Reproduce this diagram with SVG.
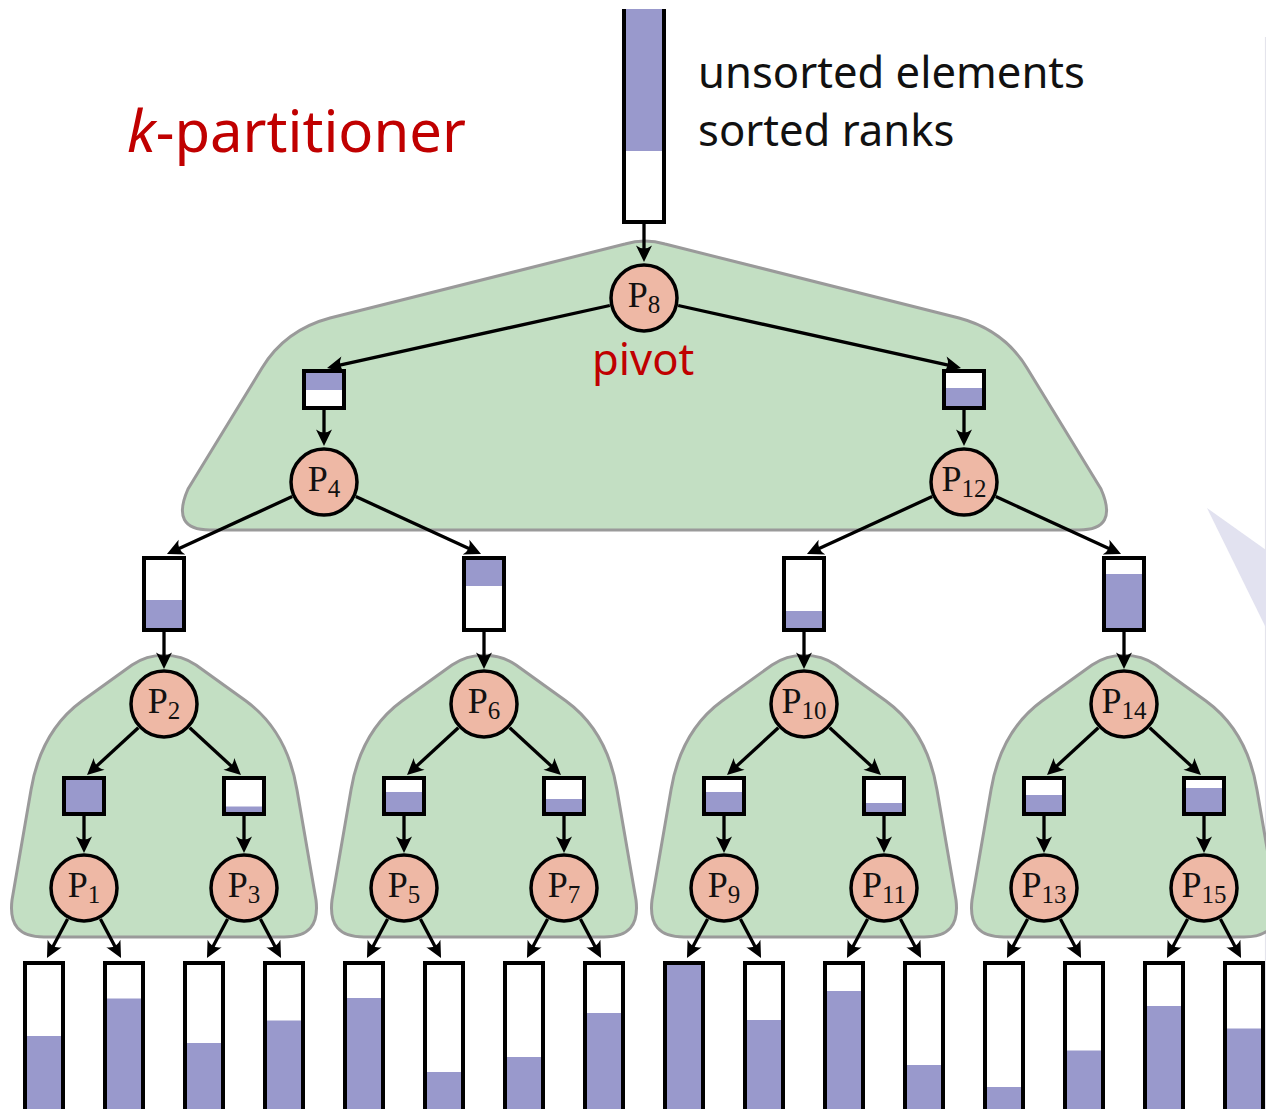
<svg xmlns="http://www.w3.org/2000/svg" width="1266" height="1109" viewBox="0 0 1266 1109">
<defs>
<style>
.region{fill:#c3dfc3;stroke:#9a9a9a;stroke-width:3;stroke-linejoin:round}
.node{fill:#eeb8a5;stroke:#000;stroke-width:3.5}
.lbl{font-family:"Liberation Serif","Times New Roman",serif;font-size:36px;fill:#111;text-anchor:middle}
.sub{font-size:25px}
.box{fill:#fff;stroke:#000;stroke-width:4}
.fill{fill:#9999cc}
.conn{stroke:#000;stroke-width:3.3;fill:none;marker-end:url(#ah)}
.txt{font-family:"Noto Sans","Open Sans",sans-serif;font-size:43.6px;fill:#111}
.red{fill:#c00000}
</style>
<marker id="ah" viewBox="-13 -10 20 20" refX="0" refY="0" markerWidth="20" markerHeight="20" markerUnits="userSpaceOnUse" orient="auto">
<path d="M5,0 L-11.5,-8 Q-5.5,0 -11.5,8 Z" fill="#000"/>
</marker>
<path id="bell" d="M-120,937 L120,937 C145,937 155,925 152,900 L133,790 C126,748 108,720 82,701 L32,665 C13,652 -13,652 -32,665 L-82,701 C-108,720 -126,748 -133,790 L-152,900 C-155,925 -145,937 -120,937 Z"/>
</defs>
<rect width="1266" height="1109" fill="#fff"/>
<line x1="1265.5" y1="37" x2="1265.5" y2="1109" stroke="#e4e4ec" stroke-width="1.2"/>
<polygon points="1207,508 1266,550 1266,628" fill="#e2e2f0"/>

<g id="title"><text class="txt red" x="127" y="152" style="font-size:58px"><tspan font-style="italic">k</tspan>-partitioner</text></g>
<g id="legend">
<text class="txt" x="698" y="88">unsorted elements</text>
<text class="txt" x="698" y="146">sorted ranks</text>
</g>

<g id="regions">
<path id="region-top" class="region" d="M210,530 L1079,530 Q1119,530 1101,489 L1027,368 Q1004,330 959,318 L665,244 Q645,238 625,244 L330,318 Q285,330 262,368 L188,489 Q170,530 210,530 Z"/>
<use id="region-2" class="region" href="#bell" x="164"/>
<use id="region-6" class="region" href="#bell" x="484"/>
<use id="region-10" class="region" href="#bell" x="804"/>
<use id="region-14" class="region" href="#bell" x="1124"/>
</g>

<g id="input-bar">
<rect x="624" y="9" width="40" height="213" fill="#fff"/>
<rect class="fill" x="626" y="9" width="36" height="142"/>
<path d="M624,9 V222 H664 V9" fill="none" stroke="#000" stroke-width="4"/>
</g>

<g id="connectors">
<line class="conn" x1="644" y1="224" x2="644" y2="257"/>
<line class="conn" x1="609.8" y1="305.5" x2="331.9" y2="366.9"/>
<line class="conn" x1="678.2" y1="305.5" x2="956.1" y2="366.9"/>
<line class="conn" x1="324" y1="410" x2="324" y2="441"/>
<line class="conn" x1="964" y1="410" x2="964" y2="441"/>
<line class="conn" x1="292.2" y1="496.6" x2="171.5" y2="551.9"/>
<line class="conn" x1="355.8" y1="496.6" x2="476.5" y2="551.9"/>
<line class="conn" x1="932.2" y1="496.6" x2="811.5" y2="551.9"/>
<line class="conn" x1="995.8" y1="496.6" x2="1116.5" y2="551.9"/>
<line class="conn" x1="164" y1="632" x2="164" y2="664"/>
<line class="conn" x1="484" y1="632" x2="484" y2="664"/>
<line class="conn" x1="804" y1="632" x2="804" y2="664"/>
<line class="conn" x1="1124" y1="632" x2="1124" y2="664"/>
<line class="conn" x1="138.3" y1="727.7" x2="90.7" y2="771.6"/>
<line class="conn" x1="189.7" y1="727.7" x2="237.3" y2="771.6"/>
<line class="conn" x1="458.3" y1="727.7" x2="410.7" y2="771.6"/>
<line class="conn" x1="509.7" y1="727.7" x2="557.3" y2="771.6"/>
<line class="conn" x1="778.3" y1="727.7" x2="730.7" y2="771.6"/>
<line class="conn" x1="829.7" y1="727.7" x2="877.3" y2="771.6"/>
<line class="conn" x1="1098.3" y1="727.7" x2="1050.7" y2="771.6"/>
<line class="conn" x1="1149.7" y1="727.7" x2="1197.3" y2="771.6"/>
<line class="conn" x1="84" y1="816" x2="84" y2="848"/>
<line class="conn" x1="244" y1="816" x2="244" y2="848"/>
<line class="conn" x1="404" y1="816" x2="404" y2="848"/>
<line class="conn" x1="564" y1="816" x2="564" y2="848"/>
<line class="conn" x1="724" y1="816" x2="724" y2="848"/>
<line class="conn" x1="884" y1="816" x2="884" y2="848"/>
<line class="conn" x1="1044" y1="816" x2="1044" y2="848"/>
<line class="conn" x1="1204" y1="816" x2="1204" y2="848"/>
<line class="conn" x1="67.6" y1="918.9" x2="49.3" y2="953.6"/>
<line class="conn" x1="100.4" y1="918.9" x2="118.7" y2="953.6"/>
<line class="conn" x1="227.6" y1="918.9" x2="209.3" y2="953.6"/>
<line class="conn" x1="260.4" y1="918.9" x2="278.7" y2="953.6"/>
<line class="conn" x1="387.6" y1="918.9" x2="369.3" y2="953.6"/>
<line class="conn" x1="420.4" y1="918.9" x2="438.7" y2="953.6"/>
<line class="conn" x1="547.6" y1="918.9" x2="529.3" y2="953.6"/>
<line class="conn" x1="580.4" y1="918.9" x2="598.7" y2="953.6"/>
<line class="conn" x1="707.6" y1="918.9" x2="689.3" y2="953.6"/>
<line class="conn" x1="740.4" y1="918.9" x2="758.7" y2="953.6"/>
<line class="conn" x1="867.6" y1="918.9" x2="849.3" y2="953.6"/>
<line class="conn" x1="900.4" y1="918.9" x2="918.7" y2="953.6"/>
<line class="conn" x1="1027.6" y1="918.9" x2="1009.3" y2="953.6"/>
<line class="conn" x1="1060.4" y1="918.9" x2="1078.7" y2="953.6"/>
<line class="conn" x1="1187.6" y1="918.9" x2="1169.3" y2="953.6"/>
<line class="conn" x1="1220.4" y1="918.9" x2="1238.7" y2="953.6"/>
</g>

<g id="boxes">
<g id="box-4"><rect class="box" x="304" y="371" width="40" height="37"/><rect class="fill" x="306" y="373" width="36" height="17"/></g>
<g id="box-12"><rect class="box" x="944" y="371" width="40" height="37"/><rect class="fill" x="946" y="388" width="36" height="18"/></g>
<g id="box-2"><rect class="box" x="144" y="558" width="40" height="72"/><rect class="fill" x="146" y="600" width="36" height="28"/></g>
<g id="box-6"><rect class="box" x="464" y="558" width="40" height="72"/><rect class="fill" x="466" y="560" width="36" height="26"/></g>
<g id="box-10"><rect class="box" x="784" y="558" width="40" height="72"/><rect class="fill" x="786" y="611" width="36" height="17"/></g>
<g id="box-14"><rect class="box" x="1104" y="558" width="40" height="72"/><rect class="fill" x="1106" y="574" width="36" height="54"/></g>
<g id="box-1"><rect class="box" x="64" y="778" width="40" height="36"/><rect class="fill" x="66" y="780" width="36" height="32"/></g>
<g id="box-3"><rect class="box" x="224" y="778" width="40" height="36"/><rect class="fill" x="226" y="806.5" width="36" height="5.5"/></g>
<g id="box-5"><rect class="box" x="384" y="778" width="40" height="36"/><rect class="fill" x="386" y="792" width="36" height="20"/></g>
<g id="box-7"><rect class="box" x="544" y="778" width="40" height="36"/><rect class="fill" x="546" y="799" width="36" height="13"/></g>
<g id="box-9"><rect class="box" x="704" y="778" width="40" height="36"/><rect class="fill" x="706" y="792" width="36" height="20"/></g>
<g id="box-11"><rect class="box" x="864" y="778" width="40" height="36"/><rect class="fill" x="866" y="803" width="36" height="9"/></g>
<g id="box-13"><rect class="box" x="1024" y="778" width="40" height="36"/><rect class="fill" x="1026" y="795" width="36" height="17"/></g>
<g id="box-15"><rect class="box" x="1184" y="778" width="40" height="36"/><rect class="fill" x="1186" y="788" width="36" height="24"/></g>
</g>

<g id="output-bars">
<g id="bar-1"><rect class="box" x="25" y="963" width="38" height="170"/><rect class="fill" x="27" y="1036" width="34" height="80"/></g>
<g id="bar-2"><rect class="box" x="105" y="963" width="38" height="170"/><rect class="fill" x="107" y="998.5" width="34" height="120"/></g>
<g id="bar-3"><rect class="box" x="185" y="963" width="38" height="170"/><rect class="fill" x="187" y="1043" width="34" height="80"/></g>
<g id="bar-4"><rect class="box" x="265" y="963" width="38" height="170"/><rect class="fill" x="267" y="1020.5" width="34" height="100"/></g>
<g id="bar-5"><rect class="box" x="345" y="963" width="38" height="170"/><rect class="fill" x="347" y="998" width="34" height="120"/></g>
<g id="bar-6"><rect class="box" x="425" y="963" width="38" height="170"/><rect class="fill" x="427" y="1072" width="34" height="50"/></g>
<g id="bar-7"><rect class="box" x="505" y="963" width="38" height="170"/><rect class="fill" x="507" y="1057" width="34" height="60"/></g>
<g id="bar-8"><rect class="box" x="585" y="963" width="38" height="170"/><rect class="fill" x="587" y="1013" width="34" height="100"/></g>
<g id="bar-9"><rect class="box" x="665" y="963" width="38" height="170"/><rect class="fill" x="667" y="965" width="34" height="150"/></g>
<g id="bar-10"><rect class="box" x="745" y="963" width="38" height="170"/><rect class="fill" x="747" y="1020" width="34" height="100"/></g>
<g id="bar-11"><rect class="box" x="825" y="963" width="38" height="170"/><rect class="fill" x="827" y="991" width="34" height="120"/></g>
<g id="bar-12"><rect class="box" x="905" y="963" width="38" height="170"/><rect class="fill" x="907" y="1065" width="34" height="50"/></g>
<g id="bar-13"><rect class="box" x="985" y="963" width="38" height="170"/><rect class="fill" x="987" y="1087" width="34" height="30"/></g>
<g id="bar-14"><rect class="box" x="1065" y="963" width="38" height="170"/><rect class="fill" x="1067" y="1050.5" width="34" height="70"/></g>
<g id="bar-15"><rect class="box" x="1145" y="963" width="38" height="170"/><rect class="fill" x="1147" y="1006" width="34" height="110"/></g>
<g id="bar-16"><rect class="box" x="1225" y="963" width="38" height="170"/><rect class="fill" x="1227" y="1028.5" width="34" height="90"/></g>
</g>

<g id="P8"><circle class="node" cx="644" cy="298" r="33"/><text class="lbl" x="644" y="307">P<tspan class="sub" dy="6">8</tspan></text></g>
<g id="pivot"><text class="txt red" x="592" y="375">pivot</text></g>
<g id="P4"><circle class="node" cx="324" cy="482" r="33"/><text class="lbl" x="324" y="491">P<tspan class="sub" dy="6">4</tspan></text></g>
<g id="P12"><circle class="node" cx="964" cy="482" r="33"/><text class="lbl" x="964" y="491">P<tspan class="sub" dy="6">12</tspan></text></g>
<g id="P2"><circle class="node" cx="164" cy="704" r="33"/><text class="lbl" x="164" y="713">P<tspan class="sub" dy="6">2</tspan></text></g>
<g id="P6"><circle class="node" cx="484" cy="704" r="33"/><text class="lbl" x="484" y="713">P<tspan class="sub" dy="6">6</tspan></text></g>
<g id="P10"><circle class="node" cx="804" cy="704" r="33"/><text class="lbl" x="804" y="713">P<tspan class="sub" dy="6">10</tspan></text></g>
<g id="P14"><circle class="node" cx="1124" cy="704" r="33"/><text class="lbl" x="1124" y="713">P<tspan class="sub" dy="6">14</tspan></text></g>
<g id="P1"><circle class="node" cx="84" cy="888" r="33"/><text class="lbl" x="84" y="897">P<tspan class="sub" dy="6">1</tspan></text></g>
<g id="P3"><circle class="node" cx="244" cy="888" r="33"/><text class="lbl" x="244" y="897">P<tspan class="sub" dy="6">3</tspan></text></g>
<g id="P5"><circle class="node" cx="404" cy="888" r="33"/><text class="lbl" x="404" y="897">P<tspan class="sub" dy="6">5</tspan></text></g>
<g id="P7"><circle class="node" cx="564" cy="888" r="33"/><text class="lbl" x="564" y="897">P<tspan class="sub" dy="6">7</tspan></text></g>
<g id="P9"><circle class="node" cx="724" cy="888" r="33"/><text class="lbl" x="724" y="897">P<tspan class="sub" dy="6">9</tspan></text></g>
<g id="P11"><circle class="node" cx="884" cy="888" r="33"/><text class="lbl" x="884" y="897">P<tspan class="sub" dy="6">11</tspan></text></g>
<g id="P13"><circle class="node" cx="1044" cy="888" r="33"/><text class="lbl" x="1044" y="897">P<tspan class="sub" dy="6">13</tspan></text></g>
<g id="P15"><circle class="node" cx="1204" cy="888" r="33"/><text class="lbl" x="1204" y="897">P<tspan class="sub" dy="6">15</tspan></text></g>
</svg>
